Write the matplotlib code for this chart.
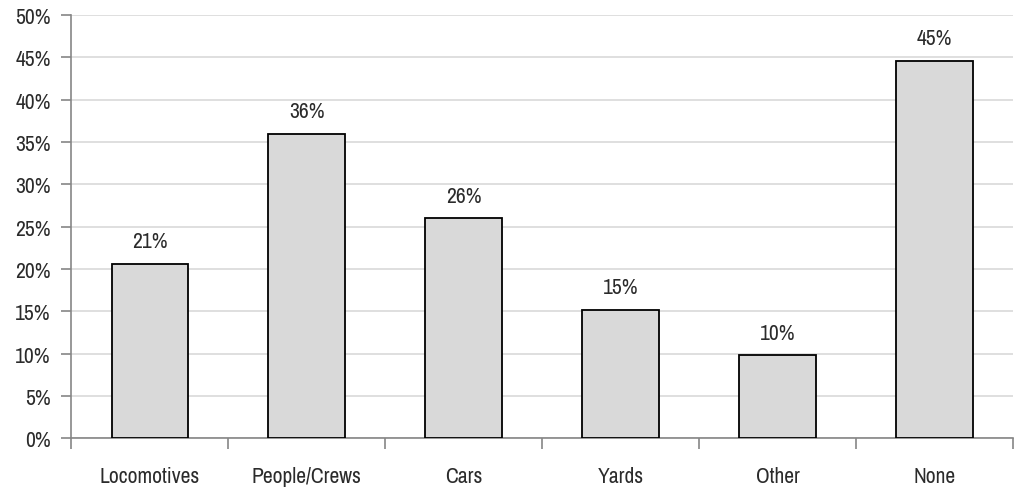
import matplotlib
matplotlib.use('Agg')
import matplotlib.pyplot as plt
from matplotlib import font_manager
import numpy as np
from matplotlib.ticker import MultipleLocator, FuncFormatter

categories = ["Locomotives", "People/Crews", "Cars", "Yards", "Other", "None"]
values = [20.6, 36.0, 26.0, 15.2, 9.8, 44.6]
labels = ["21%", "36%", "26%", "15%", "10%", "45%"]

# look for a narrow face (the original uses Arial Narrow)
narrow = None
for f in font_manager.fontManager.ttflist:
    if 'Narrow' in f.name:
        narrow = f.name
        break
stretch = 'normal'
if narrow is None:
    for f in font_manager.fontManager.ttflist:
        if f.name == 'DejaVu Sans' and f.stretch == 'condensed':
            narrow = 'DejaVu Sans'
            stretch = 'condensed'
            break

if narrow:
    plt.rcParams['font.family'] = [narrow, 'Liberation Sans', 'DejaVu Sans']
    plt.rcParams['font.stretch'] = stretch
    fs = 15.5 if stretch == 'normal' else 12.5
else:
    plt.rcParams['font.family'] = ['Liberation Sans', 'DejaVu Sans']
    fs = 13

txt_color = '#2b2b2b'

fig = plt.figure(figsize=(10.14, 4.89), dpi=100)
ax = fig.add_axes([0.0705, 0.102, 0.9285, 0.865])

x = np.arange(len(categories))
ax.bar(x, values, width=0.49, color='#d9d9d9', edgecolor='black', linewidth=1.3, zorder=3)

for xi, v, lab in zip(x, values, labels):
    ax.annotate(lab, (xi, v), xytext=(0, 9), textcoords='offset points',
                ha='center', va='bottom', fontsize=fs, color=txt_color)

ax.set_xlim(-0.5, len(categories) - 0.5)
ax.set_ylim(0, 50)
ax.yaxis.set_major_locator(MultipleLocator(5))
ax.yaxis.set_major_formatter(FuncFormatter(lambda v, p: f"{v:.0f}%"))
ax.grid(axis='y', color='#d9d9d9', linewidth=1.2, zorder=0)

# category ticks at boundaries, labels centered
ax.set_xticks(np.arange(len(categories) + 1) - 0.5)
ax.set_xticklabels([])
ax.set_xticks(x, minor=True)
ax.set_xticklabels(categories, minor=True)
ax.tick_params(axis='x', which='major', length=8, width=1.2, color='#868686', direction='out')
ax.tick_params(axis='x', which='minor', length=0, pad=20, labelsize=fs, labelcolor=txt_color)
ax.tick_params(axis='y', length=7, width=1.2, color='#868686', direction='out', pad=8,
               labelsize=fs, labelcolor=txt_color)

for s in ['top', 'right']:
    ax.spines[s].set_visible(False)
for s in ['left', 'bottom']:
    ax.spines[s].set_color('#868686')
    ax.spines[s].set_linewidth(1.2)

fig.savefig('out.png', dpi=100)
